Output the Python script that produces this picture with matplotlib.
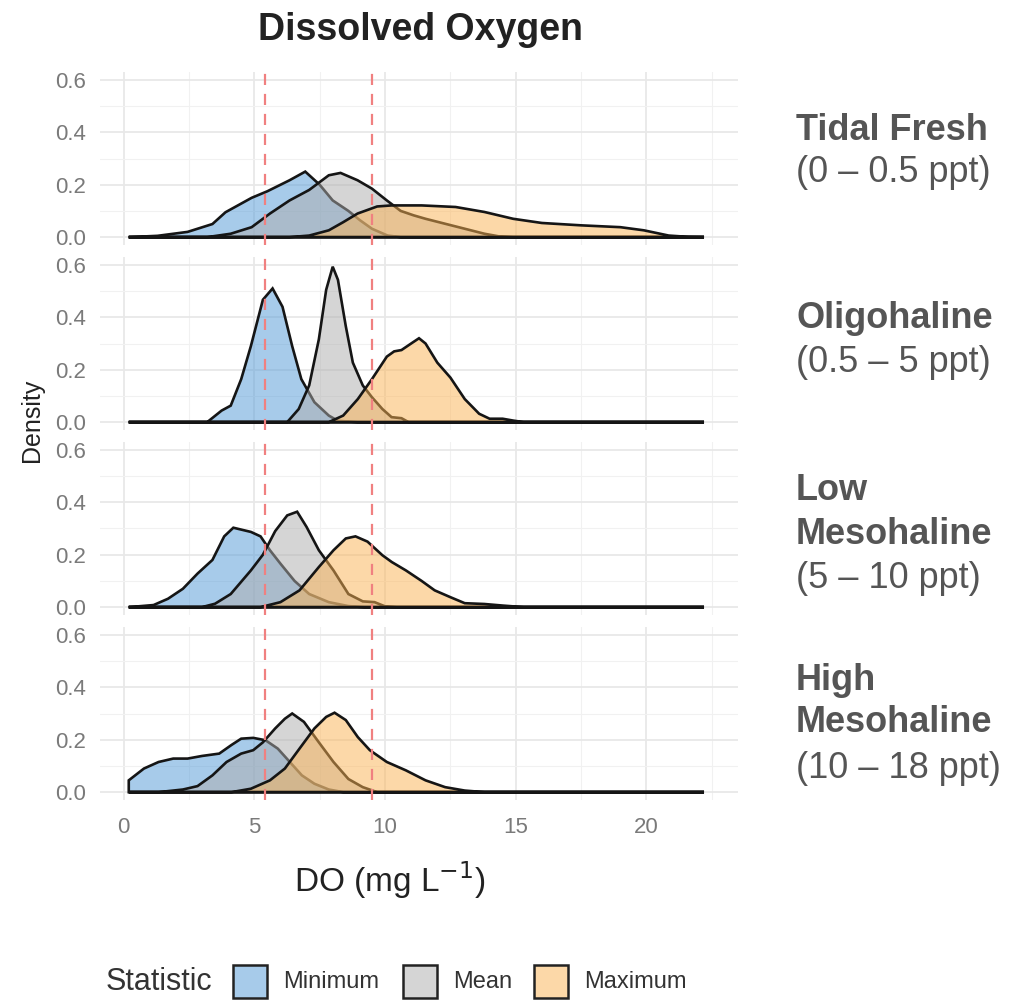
import matplotlib
matplotlib.use("Agg")
import matplotlib.pyplot as plt
from matplotlib.colors import to_rgba
from matplotlib.patches import Rectangle

# density curves (DO in mg/L, density)
zones = [["Tidal Fresh"], ["Oligohaline"], ["Low", "Mesohaline"], ["High", "Mesohaline"]]
ranges = ["(0 – 0.5 ppt)", "(0.5 – 5 ppt)", "(5 – 10 ppt)", "(10 – 18 ppt)"]
stats = ["Minimum", "Mean", "Maximum"]
fills = ["#5199d7", "#adadad", "#fbb353"]
thresholds = [5.4, 9.5]

tf_min_x = [0.2, 1.3, 2.45, 3.4, 3.9, 4.9, 5.5, 6.35, 6.95, 7.5, 8.0, 8.6, 9.05, 9.5, 10.1, 10.6, 22.2]
tf_min_y = [0, 0.005, 0.02, 0.05, 0.095, 0.15, 0.175, 0.217, 0.25, 0.2, 0.14, 0.10, 0.064, 0.032, 0.006, 0, 0]
tf_mean_x = [0.2, 3.2, 4.1, 4.9, 5.6, 6.35, 7.1, 7.85, 8.3, 8.95, 9.5, 10.07, 10.6, 11.1, 11.55, 12.3, 13.05, 13.8, 14.35, 14.9, 22.2]
tf_mean_y = [0, 0, 0.013, 0.038, 0.09, 0.14, 0.18, 0.236, 0.245, 0.217, 0.185, 0.14, 0.10, 0.083, 0.07, 0.051, 0.032, 0.013, 0.003, 0, 0]
tf_max_x = [0.2, 6.35, 7.1, 7.85, 8.4, 8.95, 9.7, 10.25, 11.4, 12.7, 13.8, 14.9, 16.0, 17.5, 19.0, 19.9, 20.85, 21.6, 22.2]
tf_max_y = [0, 0, 0.006, 0.026, 0.057, 0.09, 0.117, 0.121, 0.121, 0.115, 0.096, 0.07, 0.054, 0.045, 0.038, 0.026, 0.006, 0.001, 0]

ol_min_x = [0.2, 3.2, 3.75, 4.1, 4.5, 4.87, 5.33, 5.7, 6.08, 6.45, 6.8, 7.3, 7.85, 8.2, 8.95, 22.2]
ol_min_y = [0, 0, 0.044, 0.063, 0.164, 0.29, 0.467, 0.51, 0.44, 0.29, 0.164, 0.076, 0.025, 0.005, 0, 0]
ol_mean_x = [0.2, 6.26, 6.7, 7.1, 7.47, 7.75, 8.0, 8.2, 8.5, 8.77, 9.15, 9.5, 9.9, 10.25, 10.63, 10.9, 22.2]
ol_mean_y = [0, 0, 0.05, 0.14, 0.316, 0.505, 0.593, 0.543, 0.366, 0.227, 0.14, 0.095, 0.05, 0.019, 0.015, 0, 0]
ol_max_x = [0.2, 7.85, 8.4, 8.96, 9.5, 10.07, 10.35, 10.63, 11.0, 11.3, 11.55, 12.0, 12.5, 13.05, 13.6, 14.0, 14.5, 14.9, 15.3, 22.2]
ol_max_y = [0, 0, 0.025, 0.088, 0.164, 0.25, 0.27, 0.275, 0.30, 0.32, 0.30, 0.227, 0.17, 0.088, 0.032, 0.013, 0.013, 0.006, 0, 0]

lm_min_x = [0.2, 1.15, 1.7, 2.27, 2.83, 3.4, 3.85, 4.2, 4.87, 5.24, 5.6, 6.0, 6.54, 7.1, 7.85, 8.6, 9.2, 22.2]
lm_min_y = [0, 0.008, 0.032, 0.07, 0.128, 0.18, 0.27, 0.303, 0.287, 0.27, 0.217, 0.166, 0.10, 0.05, 0.019, 0.004, 0, 0]
lm_mean_x = [0.2, 3.0, 3.5, 4.1, 4.87, 5.33, 5.8, 6.26, 6.64, 7.0, 7.47, 8.03, 8.6, 9.15, 9.6, 10.0, 10.45, 22.2]
lm_mean_y = [0, 0, 0.013, 0.05, 0.14, 0.2, 0.29, 0.35, 0.364, 0.306, 0.217, 0.14, 0.05, 0.022, 0.019, 0.003, 0, 0]
lm_max_x = [0.2, 5.24, 6.0, 6.73, 7.47, 8.03, 8.5, 8.87, 9.33, 9.9, 10.26, 10.8, 11.4, 11.9, 12.5, 13.05, 13.8, 14.5, 15.3, 22.2]
lm_max_y = [0, 0, 0.019, 0.064, 0.153, 0.217, 0.262, 0.27, 0.25, 0.198, 0.172, 0.14, 0.10, 0.064, 0.038, 0.015, 0.012, 0.006, 0, 0]

hm_min_x = [0.2, 0.78, 1.34, 1.9, 2.45, 3.0, 3.66, 4.13, 4.5, 4.96, 5.43, 5.9, 6.36, 6.82, 7.3, 7.85, 8.4, 22.2]
hm_min_y = [0.045, 0.09, 0.115, 0.128, 0.128, 0.138, 0.147, 0.18, 0.204, 0.207, 0.198, 0.166, 0.115, 0.064, 0.032, 0.01, 0, 0]
hm_mean_x = [0.2, 1.34, 2.27, 2.83, 3.4, 3.94, 4.5, 4.96, 5.33, 5.8, 6.17, 6.45, 6.9, 7.47, 8.03, 8.6, 9.15, 9.7, 22.2]
hm_mean_y = [0, 0, 0.01, 0.023, 0.064, 0.115, 0.147, 0.16, 0.19, 0.243, 0.28, 0.30, 0.268, 0.19, 0.115, 0.05, 0.019, 0, 0]
hm_max_x = [0.2, 4.13, 4.87, 5.6, 6.17, 6.73, 7.3, 7.75, 8.07, 8.5, 8.96, 9.42, 10.07, 10.8, 11.55, 12.3, 13.05, 13.8, 22.2]
hm_max_y = [0, 0, 0.013, 0.045, 0.09, 0.166, 0.243, 0.287, 0.303, 0.275, 0.21, 0.16, 0.115, 0.083, 0.045, 0.019, 0.006, 0, 0]

curves = [
    [(tf_min_x, tf_min_y), (tf_mean_x, tf_mean_y), (tf_max_x, tf_max_y)],
    [(ol_min_x, ol_min_y), (ol_mean_x, ol_mean_y), (ol_max_x, ol_max_y)],
    [(lm_min_x, lm_min_y), (lm_mean_x, lm_mean_y), (lm_max_x, lm_max_y)],
    [(hm_min_x, hm_min_y), (hm_mean_x, hm_mean_y), (hm_max_x, hm_max_y)],
]

plt.rcParams['font.family'] = ['Liberation Sans', 'DejaVu Sans']
W, H = 1011, 1001
fig = plt.figure(figsize=(W / 100, H / 100), dpi=100)

tick_grey = "#7a7a7a"
text_grey = "#555555"
left, right = 100, 738
tops = [72, 257, 442, 627]
ph = 173
# pixel rows of the strip text lines (top to bottom) for each facet
strip_rows = [[130, 172], [318, 362], [490, 535, 578], [680, 723, 768]]

for i, top in enumerate(tops):
    ax = fig.add_axes([left / W, 1 - (top + ph) / H, (right - left) / W, ph / H])
    ax.set_xlim(-0.9, 23.5)
    ax.set_ylim(-0.03, 0.63)
    ax.set_xticks([0, 5, 10, 15, 20])
    ax.set_xticks([2.5, 7.5, 12.5, 17.5, 22.5], minor=True)
    ax.set_yticks([0.0, 0.2, 0.4, 0.6])
    ax.set_yticks([0.1, 0.3, 0.5], minor=True)
    ax.set_yticklabels(["0.0", "0.2", "0.4", "0.6"])
    ax.grid(which="major", color="#e8e8e8", lw=1.3)
    ax.grid(which="minor", color="#f1f1f1", lw=0.8)
    ax.set_axisbelow(True)
    for s in ax.spines.values():
        s.set_visible(False)
    ax.tick_params(which="both", length=0, labelsize=16, labelcolor=tick_grey)
    ax.tick_params(axis="y", pad=10)
    ax.tick_params(axis="x", pad=12)
    if i < 3:
        ax.tick_params(axis="x", labelbottom=False)

    for (xs, ys), c in zip(curves[i], fills):
        px = [xs[0]] + list(xs) + [xs[-1]]
        py = [0] + list(ys) + [0]
        ax.fill(px, py, facecolor=to_rgba(c, 0.5), edgecolor="#151515", lw=1.9, zorder=2)

    for t in thresholds:
        ax.axvline(t, color="#f08080", ls=(0, (5, 4)), lw=1.6, zorder=3)

    # facet strip on the right: bold zone name, then salinity range
    lines = zones[i] + [ranges[i]]
    for j, (txt, row) in enumerate(zip(lines, strip_rows[i])):
        bold = j < len(zones[i])
        fig.text(796 / W, 1 - row / H, txt, ha="left", va="center", fontsize=26,
                 fontweight="bold" if bold else "normal", color=text_grey)

fig.text(421 / W, 1 - 30 / H, "Dissolved Oxygen", ha="center", va="center",
         fontsize=27, fontweight="bold", color="#222222")
fig.text(32 / W, 1 - 420 / H, "Density", rotation=90, ha="center", va="center",
         fontsize=18, color="#222222")
fig.text(390 / W, 1 - 880 / H, "DO (mg L$^{-1}$)", ha="center", va="center",
         fontsize=24, color="#222222")

# legend
ly = 1 - 982 / H
fig.text(106 / W, ly, "Statistic", ha="left", va="center", fontsize=22, color="#333333")
box_x = [233, 403, 534]
for bx, c, lab in zip(box_x, fills, stats):
    fig.add_artist(Rectangle((bx / W, 1 - 998 / H), 34 / W, 33 / H,
                             transform=fig.transFigure, facecolor=to_rgba(c, 0.5),
                             edgecolor="#222222", lw=1.8))
    fig.text((bx + 50) / W, ly, lab, ha="left", va="center", fontsize=17, color="#333333")

fig.savefig("out.png", dpi=100)
